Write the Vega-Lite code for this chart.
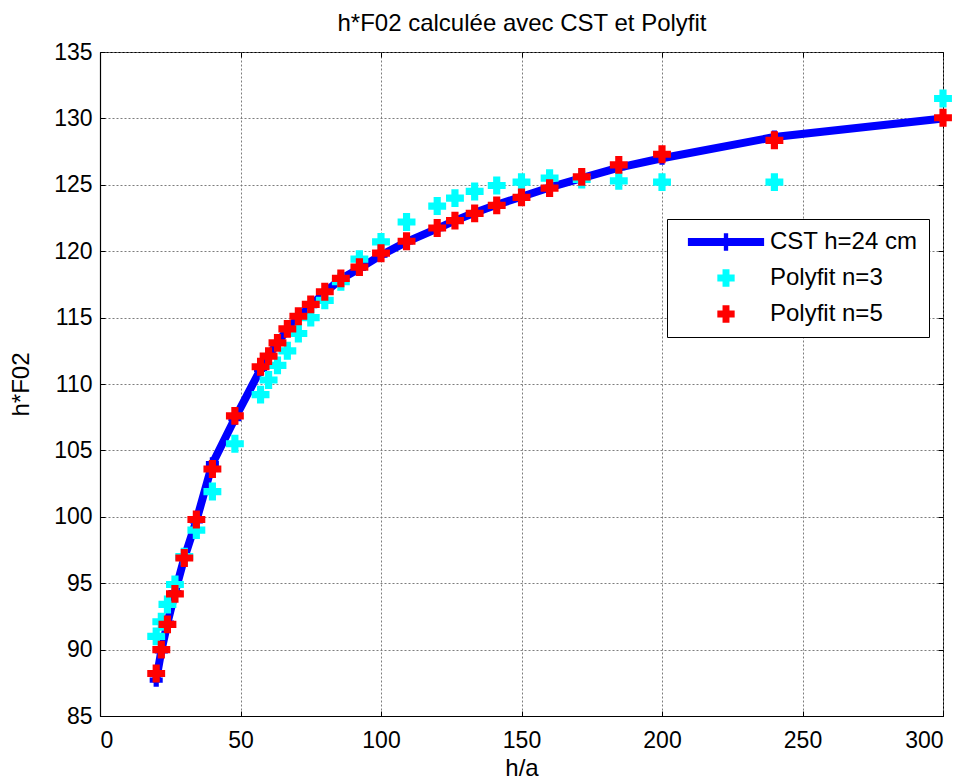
{
  "$schema": "https://vega.github.io/schema/vega-lite/v6.json",
  "autosize": {"type": "none"},
  "padding": {"left": 100, "top": 52, "right": 23, "bottom": 66},
  "width": 843,
  "height": 664,
  "background": "white",
  "config": {
    "view": {"stroke": "#000", "strokeWidth": 1},
    "axis": {
      "labelFont": "Liberation Sans", "labelFontSize": 23, "labelColor": "#000",
      "titleFont": "Liberation Sans", "titleFontSize": 24, "titleFontWeight": "normal", "titleColor": "#000",
      "domainColor": "#000", "domainWidth": 1.2,
      "tickColor": "#000", "tickSize": -5, "tickWidth": 1,
      "gridColor": "#6f6f6f", "gridDash": [2, 2], "gridWidth": 1, "gridOpacity": 0.9
    },
    "legend": {
      "orient": "none", "legendX": 567, "legendY": 167, "direction": "vertical",
      "fillColor": "white", "strokeColor": "#000", "strokeWidth": 1, "padding": 11,
      "labelFont": "Liberation Sans", "labelFontSize": 24, "labelColor": "#000",
      "symbolSize": 300, "symbolOffset": 36, "labelOffset": 32, "rowPadding": 12,
      "cornerRadius": 0, "symbolStrokeWidth": 0, "labelLimit": 400
    }
  },
  "data": {"values": [
    {"series": "CST h=24 cm", "x": 20, "y": 87.7},
    {"series": "CST h=24 cm", "x": 21.82, "y": 89.9},
    {"series": "CST h=24 cm", "x": 24, "y": 92.0},
    {"series": "CST h=24 cm", "x": 26.67, "y": 94.3},
    {"series": "CST h=24 cm", "x": 30, "y": 96.9},
    {"series": "CST h=24 cm", "x": 34.29, "y": 99.7},
    {"series": "CST h=24 cm", "x": 40, "y": 104.0},
    {"series": "CST h=24 cm", "x": 48, "y": 107.4},
    {"series": "CST h=24 cm", "x": 57.14, "y": 111.1},
    {"series": "CST h=24 cm", "x": 60, "y": 112.1},
    {"series": "CST h=24 cm", "x": 63.16, "y": 113.1},
    {"series": "CST h=24 cm", "x": 66.67, "y": 114.1},
    {"series": "CST h=24 cm", "x": 70.59, "y": 115.0},
    {"series": "CST h=24 cm", "x": 75, "y": 115.9},
    {"series": "CST h=24 cm", "x": 80, "y": 116.9},
    {"series": "CST h=24 cm", "x": 85.71, "y": 117.9},
    {"series": "CST h=24 cm", "x": 92.31, "y": 118.7},
    {"series": "CST h=24 cm", "x": 100, "y": 119.7},
    {"series": "CST h=24 cm", "x": 109.09, "y": 120.7},
    {"series": "CST h=24 cm", "x": 120, "y": 121.7},
    {"series": "CST h=24 cm", "x": 126.32, "y": 122.3},
    {"series": "CST h=24 cm", "x": 133.33, "y": 122.9},
    {"series": "CST h=24 cm", "x": 141.18, "y": 123.5},
    {"series": "CST h=24 cm", "x": 150, "y": 124.1},
    {"series": "CST h=24 cm", "x": 160, "y": 124.8},
    {"series": "CST h=24 cm", "x": 171.43, "y": 125.5},
    {"series": "CST h=24 cm", "x": 184.62, "y": 126.3},
    {"series": "CST h=24 cm", "x": 200, "y": 127.0},
    {"series": "CST h=24 cm", "x": 240, "y": 128.6},
    {"series": "CST h=24 cm", "x": 300, "y": 130.0},
    {"series": "Polyfit n=3", "x": 20, "y": 91.0},
    {"series": "Polyfit n=3", "x": 21.82, "y": 92.1},
    {"series": "Polyfit n=3", "x": 24, "y": 93.4},
    {"series": "Polyfit n=3", "x": 26.67, "y": 94.9},
    {"series": "Polyfit n=3", "x": 30, "y": 97.0},
    {"series": "Polyfit n=3", "x": 34.29, "y": 99.0},
    {"series": "Polyfit n=3", "x": 40, "y": 101.9},
    {"series": "Polyfit n=3", "x": 48, "y": 105.5},
    {"series": "Polyfit n=3", "x": 57.14, "y": 109.2},
    {"series": "Polyfit n=3", "x": 60, "y": 110.3},
    {"series": "Polyfit n=3", "x": 63.16, "y": 111.4},
    {"series": "Polyfit n=3", "x": 66.67, "y": 112.5},
    {"series": "Polyfit n=3", "x": 70.59, "y": 113.8},
    {"series": "Polyfit n=3", "x": 75, "y": 115.0},
    {"series": "Polyfit n=3", "x": 80, "y": 116.3},
    {"series": "Polyfit n=3", "x": 85.71, "y": 117.7},
    {"series": "Polyfit n=3", "x": 92.31, "y": 119.4},
    {"series": "Polyfit n=3", "x": 100, "y": 120.7},
    {"series": "Polyfit n=3", "x": 109.09, "y": 122.2},
    {"series": "Polyfit n=3", "x": 120, "y": 123.4},
    {"series": "Polyfit n=3", "x": 126.32, "y": 124.0},
    {"series": "Polyfit n=3", "x": 133.33, "y": 124.5},
    {"series": "Polyfit n=3", "x": 141.18, "y": 124.95},
    {"series": "Polyfit n=3", "x": 150, "y": 125.2},
    {"series": "Polyfit n=3", "x": 160, "y": 125.5},
    {"series": "Polyfit n=3", "x": 171.43, "y": 125.4},
    {"series": "Polyfit n=3", "x": 184.62, "y": 125.3},
    {"series": "Polyfit n=3", "x": 200, "y": 125.2},
    {"series": "Polyfit n=3", "x": 240, "y": 125.2},
    {"series": "Polyfit n=3", "x": 300, "y": 131.5},
    {"series": "Polyfit n=5", "x": 20, "y": 88.2},
    {"series": "Polyfit n=5", "x": 21.82, "y": 90.0},
    {"series": "Polyfit n=5", "x": 24, "y": 91.9},
    {"series": "Polyfit n=5", "x": 26.67, "y": 94.2},
    {"series": "Polyfit n=5", "x": 30, "y": 96.9},
    {"series": "Polyfit n=5", "x": 34.29, "y": 99.8},
    {"series": "Polyfit n=5", "x": 40, "y": 103.6},
    {"series": "Polyfit n=5", "x": 48, "y": 107.6},
    {"series": "Polyfit n=5", "x": 57.14, "y": 111.3},
    {"series": "Polyfit n=5", "x": 60, "y": 112.1},
    {"series": "Polyfit n=5", "x": 63.16, "y": 113.1},
    {"series": "Polyfit n=5", "x": 66.67, "y": 114.15},
    {"series": "Polyfit n=5", "x": 70.59, "y": 115.1},
    {"series": "Polyfit n=5", "x": 75, "y": 116.0},
    {"series": "Polyfit n=5", "x": 80, "y": 116.95},
    {"series": "Polyfit n=5", "x": 85.71, "y": 117.95},
    {"series": "Polyfit n=5", "x": 92.31, "y": 118.8},
    {"series": "Polyfit n=5", "x": 100, "y": 119.85},
    {"series": "Polyfit n=5", "x": 109.09, "y": 120.75},
    {"series": "Polyfit n=5", "x": 120, "y": 121.75},
    {"series": "Polyfit n=5", "x": 126.32, "y": 122.3},
    {"series": "Polyfit n=5", "x": 133.33, "y": 122.85},
    {"series": "Polyfit n=5", "x": 141.18, "y": 123.45},
    {"series": "Polyfit n=5", "x": 150, "y": 124.05},
    {"series": "Polyfit n=5", "x": 160, "y": 124.75},
    {"series": "Polyfit n=5", "x": 171.43, "y": 125.6},
    {"series": "Polyfit n=5", "x": 184.62, "y": 126.5},
    {"series": "Polyfit n=5", "x": 200, "y": 127.3},
    {"series": "Polyfit n=5", "x": 240, "y": 128.35},
    {"series": "Polyfit n=5", "x": 300, "y": 130.05}
  ]},
  "resolve": {"axis": {"x": "independent", "y": "independent"}},
  "layer": [
    {
      "transform": [{"filter": "datum.series === 'CST h=24 cm'"}],
      "mark": {"type": "line", "color": "#0000ff", "strokeWidth": 8, "strokeJoin": "round"},
      "encoding": {
        "x": {"field": "x", "type": "quantitative", "scale": {"domain": [0, 300], "nice": false}, "title": "h/a",
              "axis": {"orient": "bottom", "values": [0, 50, 100, 150, 200, 250, 300], "grid": true, "labelPadding": 18, "titlePadding": 4}},
        "y": {"field": "y", "type": "quantitative", "scale": {"domain": [85, 135], "nice": false, "zero": false}, "title": "h*F02",
              "axis": {"orient": "left", "values": [85, 90, 95, 100, 105, 110, 115, 120, 125, 130, 135], "grid": true, "labelPadding": 13, "titlePadding": 20}}
      }
    },
    {
      "transform": [{"filter": "datum.series === 'CST h=24 cm'"}],
      "mark": {"type": "point", "shape": "cross", "filled": true, "color": "#0000ff", "size": 170, "opacity": 1},
      "encoding": {
        "x": {"field": "x", "type": "quantitative", "axis": {"orient": "top", "values": [0, 50, 100, 150, 200, 250, 300], "labels": false, "grid": false, "domain": false, "title": "h*F02 calculée avec CST et Polyfit", "titlePadding": 16, "titleBaseline": "bottom"}},
        "y": {"field": "y", "type": "quantitative", "axis": {"orient": "right", "values": [85, 90, 95, 100, 105, 110, 115, 120, 125, 130, 135], "labels": false, "grid": false, "domain": false, "title": null}}
      }
    },
    {
      "transform": [{"filter": "datum.series !== 'CST h=24 cm'"}],
      "mark": {"type": "point", "filled": true, "size": 320, "opacity": 1, "strokeWidth": 0},
      "encoding": {
        "x": {"field": "x", "type": "quantitative", "axis": null},
        "y": {"field": "y", "type": "quantitative", "axis": null},
        "color": {"field": "series", "type": "nominal", "title": null,
                  "scale": {"domain": ["CST h=24 cm", "Polyfit n=3", "Polyfit n=5"], "range": ["#0000ff", "#00ffff", "#ff0000"]}},
        "shape": {"field": "series", "type": "nominal", "title": null,
                  "scale": {"domain": ["CST h=24 cm", "Polyfit n=3", "Polyfit n=5"], "range": ["M-4.4,-0.45H-0.25V-1H0.25V-0.45H4.4V0.45H0.25V1H-0.25V0.45H-4.4Z", "cross", "cross"]}}
      }
    }
  ]
}
